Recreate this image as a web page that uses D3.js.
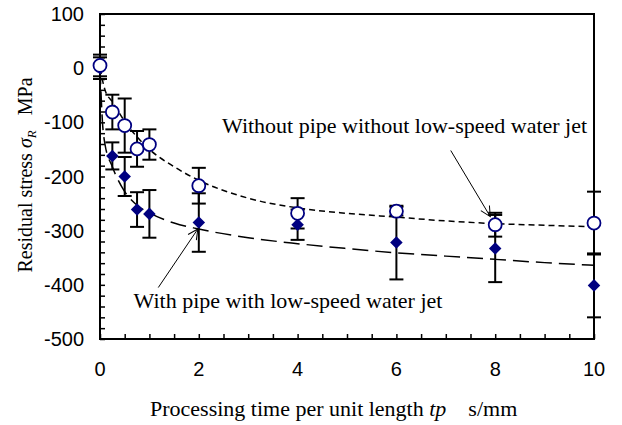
<!DOCTYPE html>
<html>
<head>
<meta charset="utf-8">
<script src="https://d3js.org/d3.v7.min.js"></script>
<style>
  body { margin: 0; background: #fff; }
  svg { display: block; }
</style>
</head>
<body>
<svg id="chart" width="622" height="425"></svg>
<script>
// measured points: without pipe (open circles)
const tpWithout = [0, 0.25, 0.5, 0.75, 1, 2, 4, 6, 8, 10];
const stressWithout = [5, -81, -106, -149, -141, -217, -268, -264, -289, -286];
const errWithout = [20, 32, 50, 33, 28, 33, 28, 8, 22, 58];

// measured points: with pipe (filled diamonds)
const tpWith = [0, 0.25, 0.5, 0.75, 1, 2, 4, 6, 8, 10];
const stressWith = [0, -162, -200, -261, -269, -285, -289, -322, -333, -401];
const errWith = [20, 25, 36, 32, 44, 54, 28, 68, 62, 59];

// fitted curves
const fitWithoutX = [0, 0.1, 0.25, 0.5, 0.75, 1, 1.5, 2, 3, 4, 5, 6, 7, 8, 9, 10];
const fitWithoutY = [0, -40, -62, -98, -127, -150, -182, -207, -240, -258, -268, -275, -282, -287, -290, -293];
const fitWithX = [0, 0.05, 0.1, 0.25, 0.5, 0.75, 1, 1.5, 2, 3, 4, 5, 6, 7, 8, 9, 10];
const fitWithY = [0, -100, -140, -182, -228, -253, -267, -286, -297, -313, -324, -333, -341, -347, -353, -359, -364];

const xTicks = [0, 2, 4, 6, 8, 10];
const yTicks = [100, 0, -100, -200, -300, -400, -500];

const margin = {top: 14, right: 28, bottom: 86, left: 100},
    width = 622 - margin.left - margin.right,
    height = 425 - margin.top - margin.bottom;

const svg = d3.select("#chart");
const g = svg.append("g").attr("transform", `translate(${margin.left},${margin.top})`);

const x = d3.scaleLinear().domain([0, 10]).range([0, width]);
const y = d3.scaleLinear().domain([-500, 100]).range([height, 0]);

const navy = "#000080";
const sans = "'Liberation Sans', Arial, sans-serif";
const serif = "'Liberation Serif', 'Times New Roman', serif";

// frame
g.append("rect")
  .attr("width", width).attr("height", height)
  .attr("fill", "none").attr("stroke", "#000").attr("stroke-width", 2);

// x axis, inward minor ticks every 0.5
const xAxis = g.append("g")
  .attr("transform", `translate(0,${height})`)
  .call(d3.axisBottom(x).tickValues(d3.range(0, 10.01, 0.5)).tickSize(-5).tickFormat(""));
xAxis.select(".domain").remove();
xAxis.selectAll("line").attr("stroke-width", 1.5);
g.selectAll(".xlab").data(xTicks).join("text")
  .attr("x", d => x(d)).attr("y", height + 37)
  .attr("text-anchor", "middle")
  .style("font", `20px ${sans}`)
  .text(d => d);

// y axis, inward ticks every 20
const yAxis = g.append("g")
  .call(d3.axisLeft(y).tickValues(d3.range(-500, 100.1, 20)).tickSize(-5).tickFormat(""));
yAxis.select(".domain").remove();
yAxis.selectAll("line").attr("stroke-width", 1.5);
g.selectAll(".ylab").data(yTicks).join("text")
  .attr("x", -16).attr("y", d => y(d)).attr("dy", "0.35em")
  .attr("text-anchor", "end")
  .style("font", `20px ${sans}`)
  .text(d => d);

// fitted curves
const line = d3.line().x(d => x(d[0])).y(d => y(d[1])).curve(d3.curveMonotoneX);
g.append("path")
  .datum(d3.zip(fitWithoutX, fitWithoutY))
  .attr("fill", "none").attr("stroke", "#000").attr("stroke-width", 1.5)
  .attr("stroke-dasharray", "6,4")
  .attr("d", line);
g.append("path")
  .datum(d3.zip(fitWithX, fitWithY))
  .attr("fill", "none").attr("stroke", "#000").attr("stroke-width", 1.5)
  .attr("stroke-dasharray", "16,7")
  .attr("d", line);

// error bars
function errorBars(xs, ys, es) {
  const rows = d3.zip(xs, ys, es);
  const eb = g.append("g").attr("stroke", "#000").attr("stroke-width", 2);
  eb.selectAll(".v").data(rows).join("line")
    .attr("x1", d => x(d[0])).attr("x2", d => x(d[0]))
    .attr("y1", d => y(d[1] + d[2])).attr("y2", d => y(d[1] - d[2]));
  eb.selectAll(".t").data(rows).join("line")
    .attr("x1", d => x(d[0]) - 7).attr("x2", d => x(d[0]) + 7)
    .attr("y1", d => y(d[1] + d[2])).attr("y2", d => y(d[1] + d[2]));
  eb.selectAll(".b").data(rows).join("line")
    .attr("x1", d => x(d[0]) - 7).attr("x2", d => x(d[0]) + 7)
    .attr("y1", d => y(d[1] - d[2])).attr("y2", d => y(d[1] - d[2]));
}
errorBars(tpWith, stressWith, errWith);
errorBars(tpWithout, stressWithout, errWithout);

// diamonds
g.selectAll(".dia").data(d3.zip(tpWith, stressWith)).join("path")
  .attr("d", d3.symbol().type(d3.symbolDiamond2).size(100))
  .attr("transform", d => `translate(${x(d[0])},${y(d[1])})`)
  .attr("fill", navy);

// circles
g.selectAll(".circ").data(d3.zip(tpWithout, stressWithout)).join("circle")
  .attr("cx", d => x(d[0])).attr("cy", d => y(d[1]))
  .attr("r", 6.5)
  .attr("fill", "#fff").attr("stroke", navy).attr("stroke-width", 1.8);

// annotations
svg.append("defs").append("marker")
  .attr("id", "arr").attr("viewBox", "0 0 12 12")
  .attr("refX", 11).attr("refY", 6)
  .attr("markerWidth", 12).attr("markerHeight", 12)
  .attr("markerUnits", "userSpaceOnUse")
  .attr("orient", "auto")
  .append("path").attr("d", "M1,1 L11,6 L1,11")
  .attr("fill", "none").attr("stroke", "#000").attr("stroke-width", 1);

g.append("text").attr("x", x(2.47)).attr("y", y(-105)).attr("dy", "0.35em")
  .style("font", `22px ${serif}`)
  .text("Without pipe without low-speed water jet");
g.append("line")
  .attr("x1", x(7.1)).attr("y1", y(-152))
  .attr("x2", x(7.9)).attr("y2", y(-274))
  .attr("stroke", "#000").attr("stroke-width", 1).attr("marker-end", "url(#arr)");

g.append("text").attr("x", x(0.68)).attr("y", y(-428)).attr("dy", "0.35em")
  .style("font", `22px ${serif}`)
  .text("With pipe with low-speed water jet");
g.append("line")
  .attr("x1", x(1.18)).attr("y1", y(-405))
  .attr("x2", x(1.98)).attr("y2", y(-297))
  .attr("stroke", "#000").attr("stroke-width", 1).attr("marker-end", "url(#arr)");

// axis titles
const xt = svg.append("text")
  .attr("x", 150).attr("y", 416)
  .style("font", `22px ${serif}`);
xt.append("tspan").text("Processing time per unit length ");
xt.append("tspan").style("font-style", "italic").text("tp");
xt.append("tspan").attr("xml:space", "preserve").text("    s/mm");

const yt = svg.append("text")
  .attr("transform", "translate(32,175) rotate(-90)")
  .attr("text-anchor", "middle")
  .style("font", `20px ${serif}`);
yt.append("tspan").text("Residual stress ");
yt.append("tspan").style("font-style", "italic").text("σ");
yt.append("tspan").style("font-style", "italic").style("font-size", "13px").attr("dy", 4).text("R");
yt.append("tspan").attr("dy", -4).attr("xml:space", "preserve").text("   MPa");
</script>
</body>
</html>
